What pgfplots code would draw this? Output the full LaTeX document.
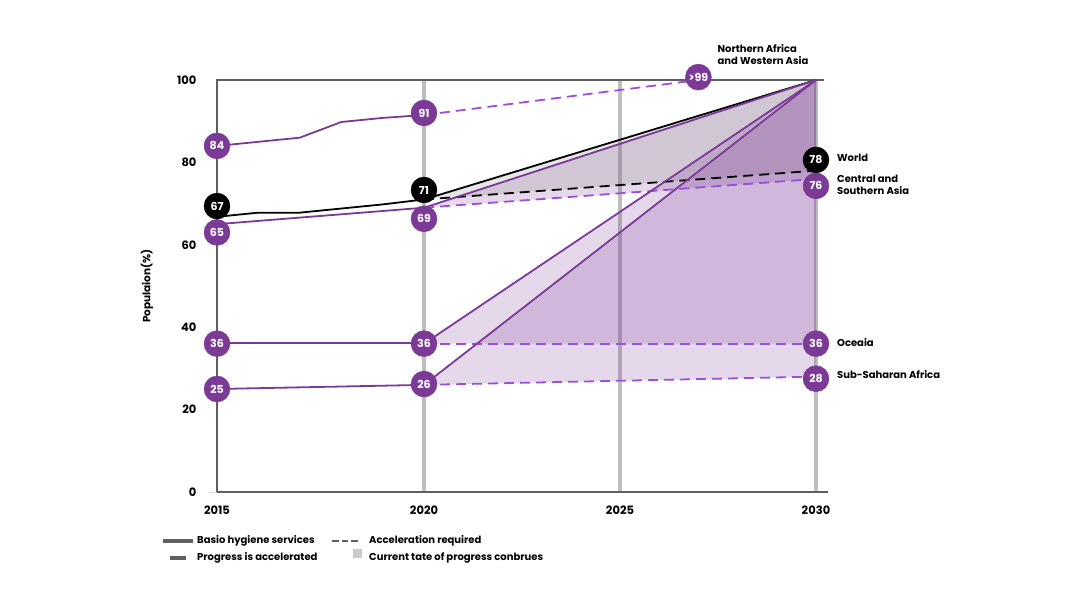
\documentclass[border=0pt]{standalone}
\usepackage{pgfplots}
\pgfplotsset{compat=1.18}
\usepackage{fontspec}
\setmainfont{Poppins}
\definecolor{pur}{HTML}{7B3A96}
\definecolor{vio}{HTML}{9B4FDC}
\definecolor{axgray}{HTML}{606060}
\definecolor{grdgray}{HTML}{BEBEBE}
\begin{document}
\begin{tikzpicture}[x=1pt,y=1pt]
\useasboundingbox (0,0) rectangle (1080,608);
\begin{axis}[
  at={(217pt,116pt)}, anchor=south west,
  scale only axis, width=599pt, height=412pt,
  x coord trafo/.code={\pgfmathparse{#1<=2020 ? (#1-2015)*41.4 : 207+(#1-2020)*39.2}},
  xmin=2015, xmax=2030, ymin=0, ymax=100,
  clip=false,
  axis line style={draw=none},
  major tick length=0pt,
  xtick={2015,2020,2025,2030},
  xticklabels={2015,2020,2025,2030},
  ytick={0,20,40,60,80,100},
  xticklabel style={font=\bfseries\fontsize{11.5}{13}\selectfont, yshift=-10pt},
  yticklabel style={font=\bfseries\fontsize{11.5}{13}\selectfont, xshift=-17pt},
  /pgf/number format/assume math mode=true,
  /pgf/number format/1000 sep={},
  ylabel={\bfseries Populaion(\%)},
  ylabel style={font=\fontsize{10.5}{12}\selectfont, at={(axis description cs:-0.117,0.5)}, anchor=center, rotate=0},
  nodes near coords align=center,
]
% grid
\addplot[grdgray, line width=3.2pt] coordinates {(2020,0) (2020,100)};
\addplot[grdgray, line width=3.2pt] coordinates {(2025,0) (2025,100)};
\addplot[grdgray, line width=3.2pt] coordinates {(2030,0) (2030,100)};
% fills
\addplot[draw=none, fill=pur, fill opacity=0.2] coordinates {(2020,69) (2030,100) (2030,76) (2020,69)};
\addplot[draw=none, fill=black!50, fill opacity=0.2] coordinates {(2020,71) (2030,100) (2030,78) (2020,71)};
\addplot[draw=none, fill=pur, fill opacity=0.2] coordinates {(2020,36) (2030,100) (2030,36) (2020,36)};
\addplot[draw=none, fill=pur, fill opacity=0.2] coordinates {(2020,26) (2030,100) (2030,28) (2020,26)};
% frame
\addplot[axgray, line width=2.8pt] coordinates {(2015,0) (2015,100) (2030.2,100)};
\addplot[axgray, line width=2.8pt] coordinates {(2015,0) (2030.3,0)};
\addplot[grdgray!60, line width=0.8pt] coordinates {(2014.8,0) (2015,0)};
% NAWA
\addplot[pur, line width=1.8pt] coordinates {(2015,84) (2016,85) (2017,86) (2018,89.8) (2019,90.8) (2020,91.5)};
\addplot[vio, line width=1.8pt, dash pattern=on 10pt off 6pt] coordinates {(2020,91.5) (2027,100)};
% World
\addplot[black, line width=1.8pt] coordinates {(2015,66.8) (2016,67.8) (2017,67.8) (2018,68.8) (2019,69.8) (2020,71)};
\addplot[black, line width=1.8pt] coordinates {(2020,71) (2030,100)};
\addplot[black, line width=1.8pt, dash pattern=on 10pt off 6pt] coordinates {(2020,71) (2030,78)};
% CSA
\addplot[pur, line width=1.8pt] coordinates {(2015,65) (2020,69)};
\addplot[pur, line width=1.8pt] coordinates {(2020,69) (2030,100)};
\addplot[vio, line width=1.8pt, dash pattern=on 10pt off 6pt] coordinates {(2020,69) (2030,76)};
% Oceania
\addplot[pur, line width=2pt] coordinates {(2015,36.1) (2020,36.1)};
\addplot[pur, line width=1.8pt] coordinates {(2020,36) (2030,100)};
\addplot[vio, line width=1.8pt, dash pattern=on 10pt off 6pt] coordinates {(2020,36) (2030,36)};
% SSA
\addplot[pur, line width=1.8pt] coordinates {(2015,25) (2020,26)};
\addplot[pur, line width=1.8pt] coordinates {(2020,26) (2030,100)};
\addplot[vio, line width=1.8pt, dash pattern=on 10pt off 6pt] coordinates {(2020,26) (2030,28)};
% circles
\addplot[only marks, mark=*, mark size=13pt, mark options={fill=pur, draw=pur},
  nodes near coords, point meta=explicit symbolic,
  every node near coord/.append style={text=white, font=\bfseries\fontsize{11}{12}\selectfont}]
  coordinates {(2015,84)[84] (2015,63)[65] (2015,36)[36] (2015,25)[25]
               (2020,92)[91] (2020,66.3)[69] (2020,36)[36] (2020,26.2)[26]
               (2027,100.7)[>99] (2030,74.3)[76] (2030,36)[36] (2030,27.5)[28]};
\addplot[only marks, mark=*, mark size=13pt, mark options={fill=black, draw=black},
  nodes near coords, point meta=explicit symbolic,
  every node near coord/.append style={text=white, font=\bfseries\fontsize{11}{12}\selectfont}]
  coordinates {(2015,69.4)[67] (2020,73.3)[71] (2030,80.6)[78]};
% region labels
\node[anchor=west, font=\bfseries\fontsize{10}{12}\selectfont] at (axis cs:2030.45,81.1) {World};
\node[anchor=west, align=left, font=\bfseries\fontsize{10}{11.5}\selectfont] at (axis cs:2030.45,74.6) {Central and\\Southern Asia};
\node[anchor=west, font=\bfseries\fontsize{10}{12}\selectfont] at (axis cs:2030.45,36.2) {Oceaia};
\node[anchor=west, font=\bfseries\fontsize{10}{12}\selectfont] at (axis cs:2030.45,28.4) {Sub-Saharan Africa};
\node[anchor=west, align=left, font=\bfseries\fontsize{10}{11.5}\selectfont] at (axis cs:2027.4,106.2) {Northern Africa\\and Western Asia};
\end{axis}
% legend
\begin{scope}[font=\bfseries\fontsize{10}{12}\selectfont]
\draw[axgray, line width=3.5pt] (163,67) -- (193,67);
\node[anchor=west, inner sep=0pt] at (197,67) {Basio hygiene services};
\draw[axgray, line width=2pt, dash pattern=on 6.5pt off 3pt] (332,67) -- (358,67);
\node[anchor=west, inner sep=0pt] at (369,67) {Acceleration required};
\draw[axgray, line width=3.5pt] (170,50) -- (186,50);
\node[anchor=west, inner sep=0pt] at (197,50) {Progress is accelerated};
\fill[grdgray!80] (353,50) rectangle (362,59);
\node[anchor=west, inner sep=0pt] at (369,50) {Current tate of progress conbrues};
\end{scope}
\end{tikzpicture}
\end{document}
